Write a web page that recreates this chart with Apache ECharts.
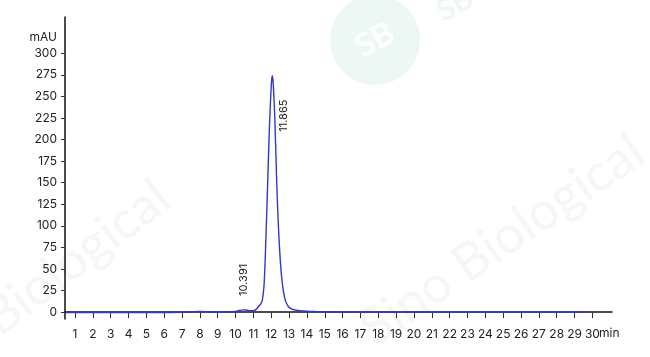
<!DOCTYPE html>
<html><head><meta charset="utf-8">
<script src="https://cdn.jsdelivr.net/npm/echarts@6/dist/echarts.min.js"></script>
<style>html,body{margin:0;padding:0;background:#fff}#c{width:650px;height:357px}</style>
</head><body><div id="c"></div>
<script>
// Retention time (min)
var times = [0.5,1,2,3,4,5,6,7,7.5,8,8.5,9,9.5,10,10.2,10.4,10.6,10.8,11.0,11.2,11.3,11.4,11.5,11.6,11.7,11.8,11.9,12.0,12.05,12.1,12.2,12.3,12.4,12.5,12.6,12.7,12.8,12.9,13.0,13.2,13.4,13.6,14,14.5,15,16,17,18,19,19.8,20.0,20.2,21,22,23,24,25,26,27,28,29,29.6];
// Absorbance (mAU)
var mau = [-0.5,-0.5,-0.5,-0.5,-0.5,-0.5,-0.4,-0.3,0.2,0.8,0.3,-0.1,0.1,0.8,1.8,2.6,2.4,1.6,1.6,4,7,9,14,32,85,150,215,262,274,268,225,155,100,62,37,22,13,8.5,5.5,3.2,2.2,1.6,1.0,0.6,0.3,0,-0.2,-0.3,-0.3,-0.3,0.3,-0.2,-0.2,-0.2,-0.2,-0.2,-0.2,-0.2,-0.2,-0.2,-0.2,-0.2];
var xTicks = [1,2,3,4,5,6,7,8,9,10,11,12,13,14,15,16,17,18,19,20,21,22,23,24,25,26,27,28,29,30];
var yTicks = [0,25,50,75,100,125,150,175,200,225,250,275,300];
var peakTimes = [10.391, 11.865];
var peakHeights = [2.6, 274];
var peakTexts = ['10.391', '11.865'];
var peakOffsets = [[30, 1], [-40, 15]];

var chart = echarts.init(document.getElementById('c'), null, {renderer:'canvas'});
var font = 'Inter, Lato, sans-serif';
chart.setOption({
  animation:false,
  graphic:[
    {type:'circle', shape:{cx:375, cy:40, r:45}, style:{fill:'#edf8f5'}, z:-10, silent:true},
    {type:'text', x:375, y:40, rotation:0.5, style:{text:'SB', fill:'#ffffff', font:'bold 32px Lato, sans-serif', align:'center', verticalAlign:'middle'}, z:-9, silent:true},
    {type:'text', x:455, y:5, rotation:0.5, style:{text:'SB', fill:'#edf8f5', font:'bold 30px Lato, sans-serif', align:'center', verticalAlign:'middle'}, z:-9, silent:true},
    {type:'text', x:5, y:345, rotation:0.65, style:{text:'Biological', fill:'#f3f7f6', font:'52px Lato, sans-serif', align:'left', verticalAlign:'bottom'}, z:-10, silent:true},
    {type:'text', x:380, y:355, rotation:0.6, style:{text:'Sino Biological', fill:'#f3f7f6', font:'52px Lato, sans-serif', align:'left', verticalAlign:'bottom'}, z:-10, silent:true},
    {type:'text', x:57, y:37, style:{text:'mAU', fill:'#222', font:'12px '+font, align:'right', verticalAlign:'middle'}},
    {type:'text', x:599, y:333, style:{text:'min', fill:'#222', font:'12px '+font, align:'left', verticalAlign:'middle'}}
  ],
  grid:{left:65, right:38, top:17, bottom:38, containLabel:false},
  xAxis:{type:'value', min:0.44, max:31.1,
    axisLine:{show:true, lineStyle:{color:'#111', width:1.5}},
    axisTick:{show:true, length:6, customValues:xTicks, lineStyle:{color:'#333'}},
    axisLabel:{customValues:xTicks, margin:9, color:'#222', fontSize:12, fontFamily:font},
    splitLine:{show:false}},
  yAxis:{type:'value', min:-8, max:342,
    axisLine:{show:true, lineStyle:{color:'#111', width:1.5}},
    axisTick:{show:true, length:4, customValues:yTicks, lineStyle:{color:'#333'}},
    axisLabel:{customValues:yTicks, margin:8, color:'#222', fontSize:12, fontFamily:font},
    splitLine:{show:false}},
  series:[{
    type:'line', data: times.map(function(t,i){return [t, mau[i]];}),
    showSymbol:false, smooth:0.3, lineStyle:{color:'#3535d0', width:1.4},
    markPoint:{symbol:'circle', symbolSize:1, itemStyle:{color:'rgba(0,0,0,0)'},
      data: peakTimes.map(function(t,i){return {coord:[t, peakHeights[i]], value:peakTexts[i],
        label:{offset:peakOffsets[i]}};}),
      label:{show:true, position:'inside', formatter:'{c}', rotate:90, color:'#222', fontSize:11, fontFamily:font}}
  }]
});
</script></body></html>
